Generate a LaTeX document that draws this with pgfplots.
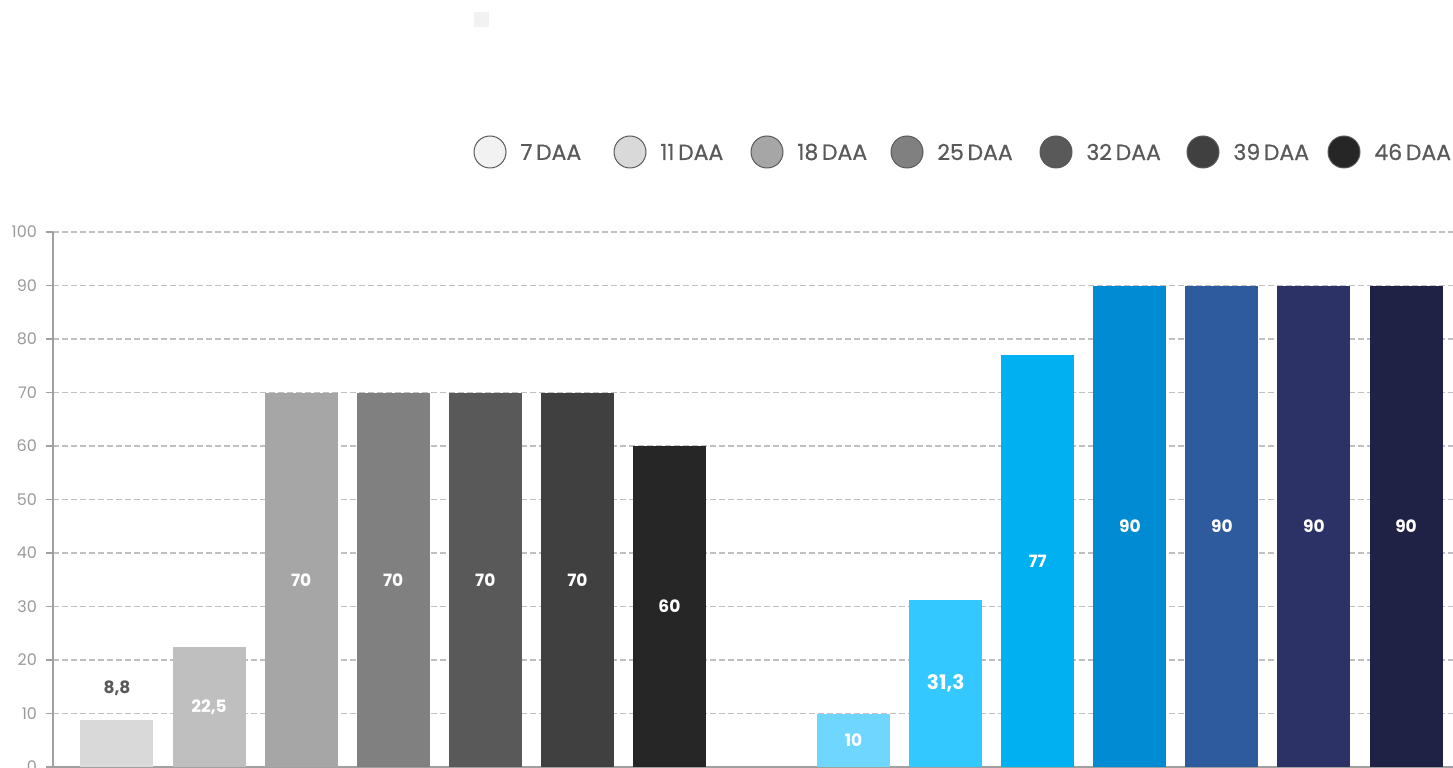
\documentclass[border=0pt]{standalone}
\usepackage{pgfplots}
\pgfplotsset{compat=1.18}
\usepackage{fontspec}
\setmainfont{Poppins}
\newfontfamily\legfont{Poppins}[FakeBold=0.6]
\definecolor{gA}{HTML}{D9D9D9}
\definecolor{gB}{HTML}{BFBFBF}
\definecolor{gC}{HTML}{A6A6A6}
\definecolor{gD}{HTML}{808080}
\definecolor{gE}{HTML}{595959}
\definecolor{gF}{HTML}{404040}
\definecolor{gG}{HTML}{262626}
\definecolor{bA}{HTML}{6FD6FF}
\definecolor{bB}{HTML}{33C8FF}
\definecolor{bC}{HTML}{00B0F0}
\definecolor{bD}{HTML}{008BD2}
\definecolor{bE}{HTML}{2E5A9E}
\definecolor{bF}{HTML}{2C3266}
\definecolor{bG}{HTML}{1F2244}
\definecolor{lA}{HTML}{F2F2F2}
\definecolor{gridgray}{HTML}{C0C0C0}
\definecolor{axisgray}{HTML}{A0A0A0}
\definecolor{ticktext}{HTML}{9A9A9A}
\definecolor{legtext}{HTML}{595959}
\pgfplotsset{mybar/.style={ybar, bar width=36.5pt, bar shift=0pt, fill=#1, draw=none}}
\pgfplotstableread{
x y lab
1 11.25 22,5
2 35 70
3 35 70
4 35 70
5 35 70
6 30 60
8 5 10
10 38.5 77
11 45 90
12 45 90
13 45 90
14 45 90
}\whitelabels
\begin{document}
\begin{tikzpicture}
\begin{axis}[at={(0,0)}, anchor=south west, scale only axis,
  width=700pt, height=267.5pt,
  xmin=-0.695, xmax=14.51, ymin=0, ymax=100,
  ytick={0,10,...,100}, xtick=\empty,
  ymajorgrids, grid style={color=gridgray, line width=0.9pt, dash pattern=on 3pt off 1.5pt},
  axis x line*=bottom, axis y line*=left,
  axis line style={axisgray, line width=0.9pt},
  ytick style={axisgray, line width=0.9pt},
  tick align=outside, major tick length=3.5pt,
  yticklabel style={font=\fontsize{8}{8}\selectfont, text=ticktext, xshift=-1pt},
  /pgf/number format/assume math mode=true,
  clip=false]
\addplot[mybar=gA] coordinates {(0,8.8)};
\addplot[mybar=gB] coordinates {(1,22.5)};
\addplot[mybar=gC] coordinates {(2,70)};
\addplot[mybar=gD] coordinates {(3,70)};
\addplot[mybar=gE] coordinates {(4,70)};
\addplot[mybar=gF] coordinates {(5,70)};
\addplot[mybar=gG] coordinates {(6,60)};
\addplot[mybar=bA] coordinates {(8,10)};
\addplot[mybar=bB] coordinates {(9,31.3)};
\addplot[mybar=bC] coordinates {(10,77)};
\addplot[mybar=bD] coordinates {(11,90)};
\addplot[mybar=bE] coordinates {(12,90)};
\addplot[mybar=bF] coordinates {(13,90)};
\addplot[mybar=bG] coordinates {(14,90)};
\addplot[only marks, mark=none, nodes near coords, point meta=explicit symbolic,
  every node near coord/.style={anchor=center, text=white, font=\bfseries\fontsize{8.5}{8.5}\selectfont}]
  table[x=x, y=y, meta=lab] {\whitelabels};
\addplot[only marks, mark=none, nodes near coords, point meta=explicit symbolic,
  every node near coord/.style={anchor=center, text=white, font=\bfseries\fontsize{10}{10}\selectfont}]
  table[meta=lab] {x y lab
9 15.65 31,3
};
\addplot[only marks, mark=none, nodes near coords, point meta=explicit symbolic,
  every node near coord/.style={anchor=center, text=gE, font=\bfseries\fontsize{8.5}{8.5}\selectfont}]
  table[meta=lab] {x y lab
0 14.8 8,8
};
\end{axis}
% decorative square
\fill[lA] (210.5pt,370pt) rectangle (218pt,377.5pt);
% legend
\foreach \cx/\col/\lab in {218.5/lA/7\,DAA, 288.5/gA/11\,DAA, 357/gC/18\,DAA, 427/gD/25\,DAA, 501.5/gE/32\,DAA, 575/gF/39\,DAA, 645.5/gG/46\,DAA}{
  \filldraw[fill=\col, draw=gE, line width=0.5pt] (\cx pt,307.5pt) circle (8pt);
  \node[anchor=west, text=legtext, inner sep=0pt, font=\legfont\fontsize{11}{11}\selectfont] at (\cx pt+15pt,307.5pt) {\lab};
}
\pgfresetboundingbox
\path[use as bounding box] (-26.5pt,0pt) rectangle (700pt,383.5pt);
\end{tikzpicture}
\end{document}
